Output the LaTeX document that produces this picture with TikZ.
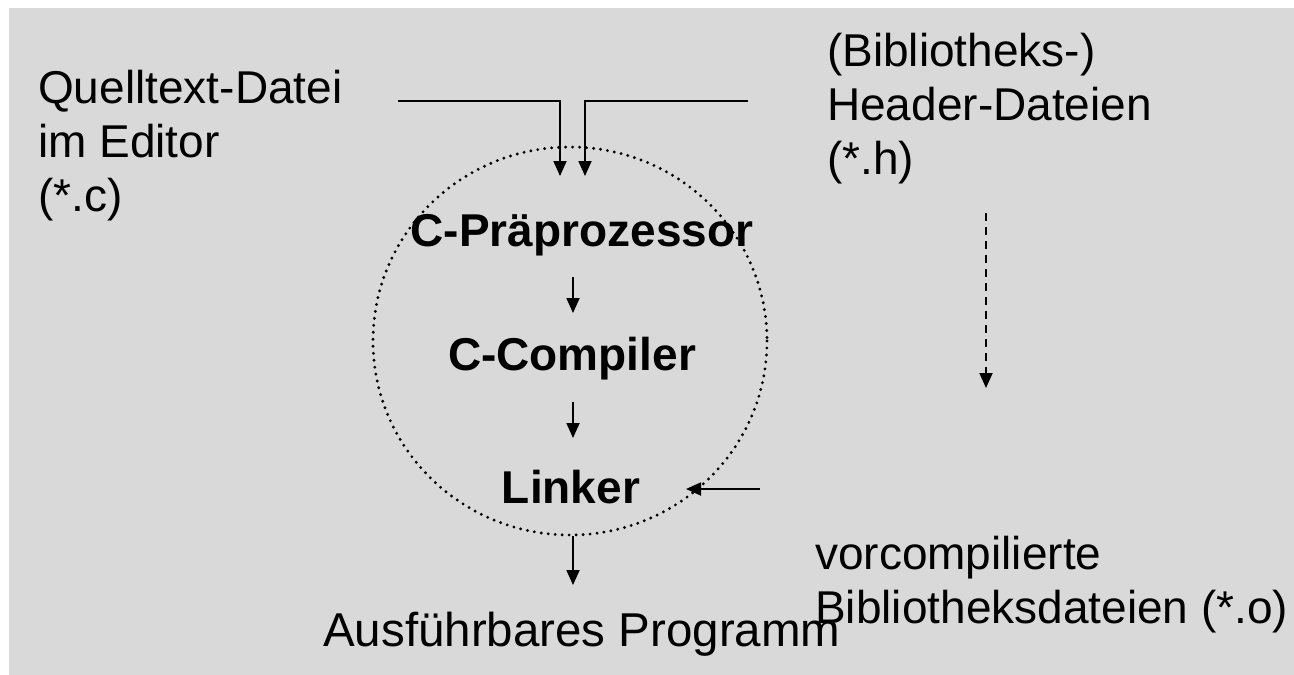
\documentclass[tikz,border=0pt]{standalone}
\usepackage{fontspec}
\setmainfont{Liberation Sans}
\usetikzlibrary{arrows.meta}
\definecolor{panel}{HTML}{D9D9D9}
\tikzset{
  lbl/.style={inner sep=0pt, align=left, font=\fontsize{46}{54}\selectfont},
  stage/.style={inner sep=0pt, font=\fontsize{46}{54}\selectfont\bfseries},
  arr/.style={line width=1.8pt, -{Triangle[length=15pt,width=13pt]}},
  dasharr/.style={arr, dash pattern=on 8pt off 6pt},
}
\begin{document}
\begin{tikzpicture}[x=1pt,y=-1pt]
\useasboundingbox (0,0) rectangle (1294,675);
\fill[panel] (9,8) rectangle (1294,675);

% input files (base anchor = baseline of the last line)
\node[lbl, anchor=base west] (src) at (38,211) {Quelltext-Datei\\im Editor\\(*.c)};
\node[lbl, anchor=base west] (hdr) at (827,174) {(Bibliotheks-)\\Header-Dateien\\(*.h)};

% translation unit
\draw[line width=3.2pt, line cap=round, dash pattern=on 0pt off 7pt] (570,341) ellipse [x radius=197, y radius=194];
\node[stage, anchor=base] (pre) at (582,246) {C-Präprozessor};
\node[stage, anchor=base] (cc)  at (572,370) {C-Compiler};
\node[stage, anchor=base] (ld)  at (571,503) {Linker};

% libraries and result
\node[lbl, anchor=base west] (lib) at (815,623) {vorcompilierte\\Bibliotheksdateien (*.o)};
\node[lbl, anchor=base west, font=\fontsize{47.5}{54}\selectfont] (exe) at (323,646) {Ausführbares Programm};

% connector end points
\coordinate (srcout) at (398,101);
\coordinate (hdrout) at (748,101);
\coordinate (prein1) at (560,176);
\coordinate (prein2) at (585,176);
\coordinate (c1a) at (573,277);
\coordinate (c1b) at (573,313);
\coordinate (c2a) at (573,402);
\coordinate (c2b) at (573,438);
\coordinate (libout) at (760,489);
\coordinate (ldin) at (686,489);
\coordinate (hdrdown) at (986,213);
\coordinate (libin) at (986,388);
\coordinate (ldout) at (573,536);
\coordinate (exein) at (573,585);

\draw[arr] (srcout) -| (prein1);
\draw[arr] (hdrout) -| (prein2);
\draw[arr] (c1a) -- (c1b);
\draw[arr] (c2a) -- (c2b);
\draw[arr] (libout) -- (ldin);
\draw[dasharr] (hdrdown) -- (libin);
\draw[arr] (ldout) -- (exein);
\end{tikzpicture}
\end{document}
